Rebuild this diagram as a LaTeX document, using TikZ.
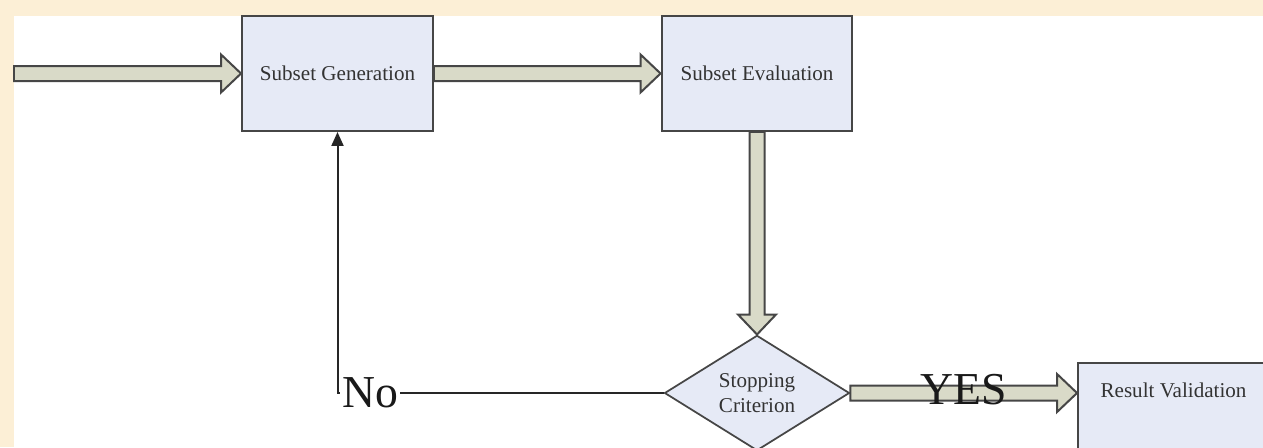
\documentclass[tikz,border=0pt]{standalone}
\usepackage{fontspec}
\setmainfont{Liberation Serif}
\usetikzlibrary{calc,shapes.geometric,arrows.meta}

\definecolor{slidebg}{HTML}{FCEFD6}
\definecolor{boxfill}{HTML}{E6EAF6}
\definecolor{arrowfill}{HTML}{D9DAC8}
\definecolor{edge}{HTML}{464646}

\newcommand*{\shaftw}{0.15cm}
\newcommand*{\headw}{0.38cm}
\newcommand*{\headl}{0.4cm}

% fat arrow from #1 to #2
\newcommand*{\blockarrow}[2]{%
	\coordinate (hb) at ($(#2)!\headl!(#1)$);
	\filldraw[fatarrow] ($(#1)!\shaftw!90:(#2)$) -- ($(hb)!\shaftw!90:(#2)$)
		-- ($(hb)!\headw!90:(#2)$) -- (#2) -- ($(hb)!\headw!-90:(#2)$)
		-- ($(hb)!\shaftw!-90:(#2)$) -- ($(#1)!\shaftw!-90:(#2)$) -- cycle;
}

\begin{document}
\begin{tikzpicture}
[
	x=0.02cm, y=-0.02cm,
	box/.style={rectangle,draw=edge,line width=0.04cm,fill=boxfill,text=black!80,
		font=\fontsize{12}{14.2}\selectfont,inner sep=0pt,minimum width=3.82cm,minimum height=2.3cm},
	decision/.style={diamond,draw=edge,line width=0.035cm,fill=boxfill,text=black!80,
		font=\fontsize{12}{14.2}\selectfont,align=center,inner sep=0pt,minimum width=3.7cm,minimum height=2.28cm},
	fatarrow/.style={draw=edge,fill=arrowfill,line width=0.04cm,line join=miter},
	bigtext/.style={font=\fontsize{26}{30}\selectfont,text=black!90}
]

	% page
	\fill[slidebg] (0,0) rectangle (1263,447);
	\fill[white] (14,16) rectangle (1263,447);
	\useasboundingbox (0,0) rectangle (1263,447);
	\clip (0,0) rectangle (1263,447);

	% boxes
	\node[box] (gen) at (337.5,73.5) {Subset Generation};
	\node[box] (eval) at (757,73.5) {Subset Evaluation};
	\node[decision] (stop) at (757,393) {Stopping\\Criterion};
	\node[box,minimum height=0pt,inner ysep=0.1cm,text height=0.58cm,text depth=1.52cm,anchor=base]
		(result) at (1173.5,397) {Result Validation};

	% fat arrows
	\coordinate (in) at (14,73.5);
	\blockarrow{in}{gen.west}
	\blockarrow{gen.east}{eval.west}
	\blockarrow{eval.south}{stop.north}
	\coordinate (resin) at (stop.east -| result.west);
	\blockarrow{stop.east}{resin}
	\node[bigtext] (yes) at (964,390) {YES};

	% back to generation
	\coordinate (corner) at (gen.south |- stop.west);
	\draw[black!85,line width=0.04cm,-{Triangle[length=0.28cm,width=0.24cm]}]
		(stop.west) -- (corner) node[bigtext,anchor=west,fill=white,inner sep=1pt,xshift=1pt] (no) {No}
		-- (gen.south);

\end{tikzpicture}
\end{document}
